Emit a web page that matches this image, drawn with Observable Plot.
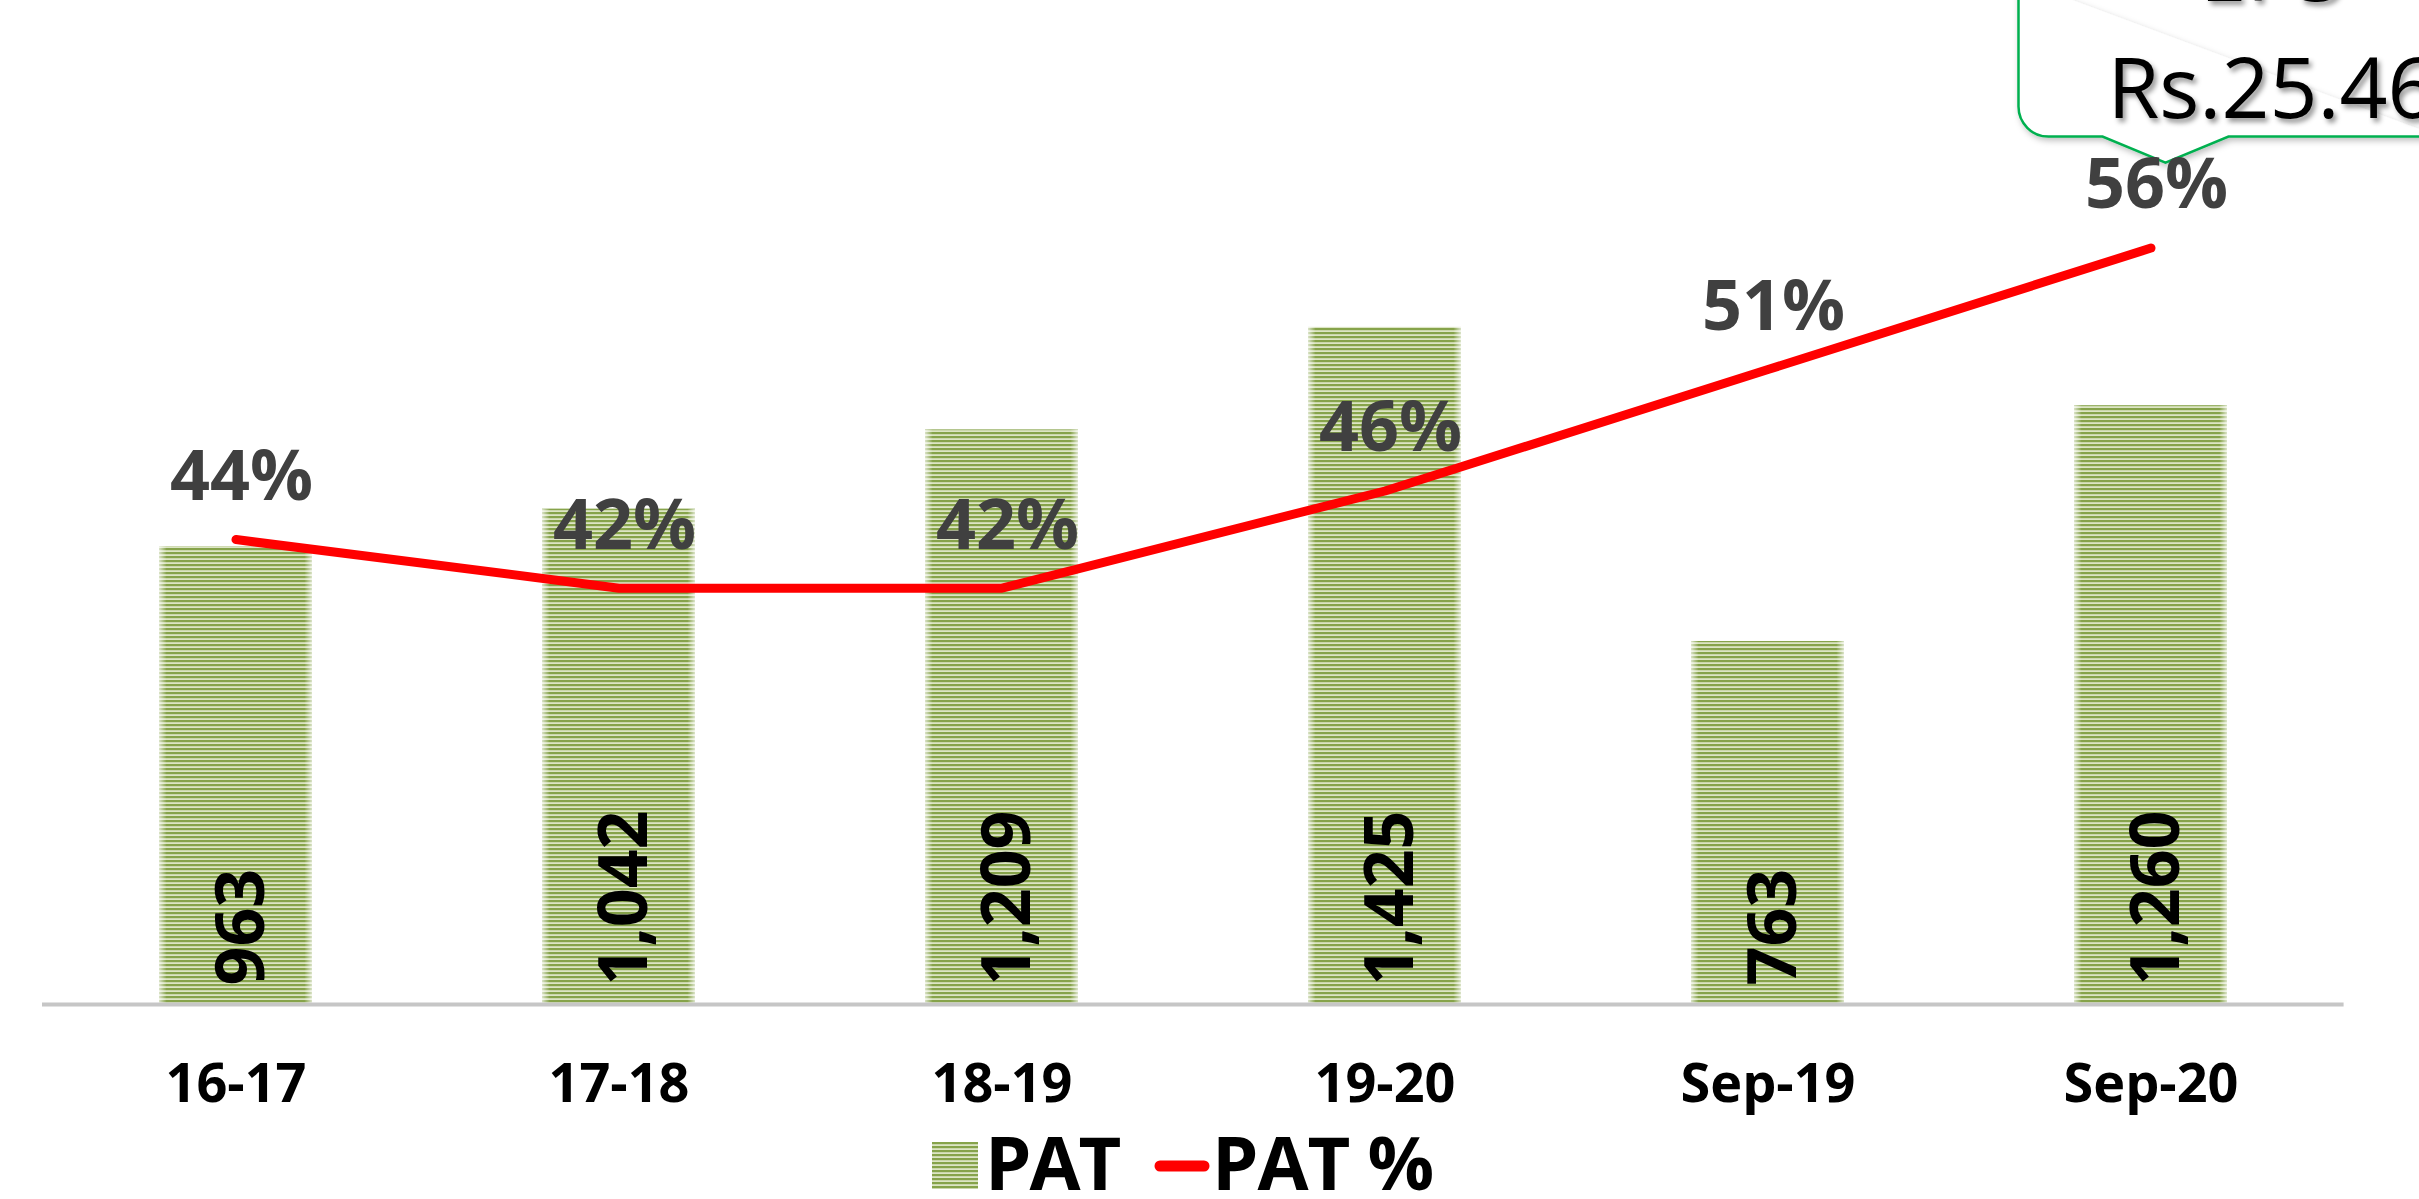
<!DOCTYPE html>
<html>
<head>
<meta charset="utf-8">
<script src="https://cdn.jsdelivr.net/npm/d3@7"></script>
<script src="https://cdn.jsdelivr.net/npm/@observablehq/plot@0.6"></script>
<style>
  html, body { margin: 0; padding: 0; background: #fff; }
  #wrap { width: 2419px; }
  svg text { font-family: "Open Sans", Lato, sans-serif; }
</style>
</head>
<body>
<div id="wrap"></div>
<script>
// ---- data ----
const categories = ["16-17", "17-18", "18-19", "19-20", "Sep-19", "Sep-20"];
const patValues = [963, 1042, 1209, 1425, 763, 1260];
const patPctValues = [44, 42, 42, 46, 51, 56];
const seriesNames = ["PAT", "PAT %"];
const calloutLines = ["EPS", "Rs.25.46"];
const calloutCategory = "Sep-20";

// secondary (percent) axis mapped onto the bar axis units
const pctToPat = d3.scaleLinear().domain([30, 60]).range([261, 1797]);
const fmt = d3.format(",");

const data = categories.map((c, i) => ({
  cat: c,
  pat: patValues[i],
  pct: patPctValues[i],
  pctY: pctToPat(patPctValues[i])
}));

const FONT = "'Open Sans', Lato, sans-serif";
const W = 2419, H = 1125;
const frame = {
  width: W, height: H, marginLeft: 42, marginRight: 75.4, marginTop: 0, marginBottom: 122,
  x: { domain: categories, paddingInner: 0.6, paddingOuter: 0.3, axis: null, label: null },
  y: { domain: [0, 2114], axis: null }
};
const chart = Plot.plot({
  ...frame,
  style: { fontFamily: FONT, background: "white", color: "black", overflow: "visible" },
  marks: [
    Plot.barY(data, { x: "cat", y: "pat", fill: "url(#patStripes)" }),
    Plot.barY(data, { x: "cat", y: "pat", fill: "url(#patEdge)" }),
    Plot.ruleY([0], { stroke: "#c6c6c6", strokeWidth: 4, dy: 1 }),
    Plot.text(data, {
      x: "cat", y: 0, text: d => fmt(d.pat), rotate: -90, textAnchor: "start",
      dy: -18, dx: 6, fontSize: 68, fontWeight: 700, fill: "black"
    }),
    Plot.line(data, {
      x: "cat", y: "pctY", stroke: "#ff0000", strokeWidth: 9,
      strokeLinecap: "round", strokeLinejoin: "round"
    }),
    Plot.axisX({ tickSize: 0, tickPadding: 60, fontSize: 54, fontWeight: 700, color: "black", label: null })
  ]
});

document.getElementById("wrap").appendChild(chart);

const svg = d3.select(chart);
svg.insert("defs", ":first-child").html(`
  <pattern id="patStripes" patternUnits="userSpaceOnUse" width="10" height="4">
    <rect width="10" height="4" fill="#dce5c4"/>
    <rect width="10" height="2.2" fill="#86a34a"/>
  </pattern>
  <linearGradient id="patEdge" x1="0" x2="1" y1="0" y2="0">
    <stop offset="0" stop-color="#fff" stop-opacity="0.7"/>
    <stop offset="0.05" stop-color="#fff" stop-opacity="0"/>
    <stop offset="0.95" stop-color="#fff" stop-opacity="0"/>
    <stop offset="1" stop-color="#fff" stop-opacity="0.7"/>
  </linearGradient>
  <filter id="boxShadow" x="-20%" y="-20%" width="140%" height="140%">
    <feDropShadow dx="2" dy="3" stdDeviation="3" flood-color="#000" flood-opacity="0.25"/>
  </filter>
  <filter id="textShadow" x="-10%" y="-30%" width="130%" height="160%">
    <feDropShadow dx="3" dy="4" stdDeviation="2.5" flood-color="#000" flood-opacity="0.4"/>
  </filter>
`);

// callout anchored above the Sep-20 percent point
const xs = chart.scale("x"), ys = chart.scale("y");
const px = xs.apply(calloutCategory) + xs.bandwidth / 2;
const py = ys.apply(pctToPat(patPctValues[categories.indexOf(calloutCategory)]));
const tipX = px + 15, tipY = py - 85;
const bb = tipY - 26;
const left = tipX - 147;
const r = 30;
const g = svg.append("g");
g.append("path")
  .attr("d", `M ${W + 20} ${bb} H ${tipX + 63} L ${tipX} ${tipY} L ${tipX - 63} ${bb} H ${left + r} A ${r} ${r} 0 0 1 ${left} ${bb - r} V -20`)
  .attr("fill", "white")
  .attr("stroke", "#00b050")
  .attr("stroke-width", 2.5)
  .attr("filter", "url(#boxShadow)");
g.selectAll("text.callout")
  .data(calloutLines)
  .join("text")
  .attr("class", "callout")
  .attr("x", tipX + 106)
  .attr("y", (d, i) => bb - 19 - (calloutLines.length - 1 - i) * 117)
  .attr("text-anchor", "middle")
  .attr("font-size", 84)
  .attr("font-family", "Lato, 'Open Sans', sans-serif")
  .attr("font-weight", "normal")
  .attr("fill", "black")
  .attr("filter", "url(#textShadow)")
  .text(d => d);

// percent labels drawn on top of the callout
const labelLayer = Plot.plot({
  ...frame,
  style: { fontFamily: FONT },
  marks: [
    Plot.text(data, {
      x: "cat", y: "pctY", text: d => d.pct + "%", dy: -62, dx: 6,
      fontSize: 70, fontWeight: 700, fill: "#404040"
    })
  ]
});
d3.select(labelLayer).selectAll("g[aria-label='text']").each(function () { chart.appendChild(this); });

// ---- legend (below the chart) ----
const leg = d3.select("#wrap").append("svg")
  .attr("width", W).attr("height", 74)
  .style("display", "block");
leg.append("defs").html(`
  <pattern id="legStripes" patternUnits="userSpaceOnUse" width="10" height="4" y="1">
    <rect width="10" height="4" fill="#dce5c4"/>
    <rect width="10" height="2.2" fill="#86a34a"/>
  </pattern>`);
leg.append("rect").attr("x", 932).attr("y", 17).attr("width", 46).attr("height", 47).attr("fill", "url(#legStripes)");
leg.append("text").attr("x", 985).attr("y", 65).attr("font-size", 74).attr("font-weight", 700)
  .attr("letter-spacing", -2).attr("fill", "black").text(seriesNames[0]);
leg.append("line").attr("x1", 1160).attr("x2", 1204).attr("y1", 41).attr("y2", 41)
  .attr("stroke", "#ff0000").attr("stroke-width", 11).attr("stroke-linecap", "round");
leg.append("text").attr("x", 1212).attr("y", 65).attr("font-size", 74).attr("font-weight", 700)
  .attr("letter-spacing", -1).attr("fill", "black").text(seriesNames[1]);
</script>
</body>
</html>
